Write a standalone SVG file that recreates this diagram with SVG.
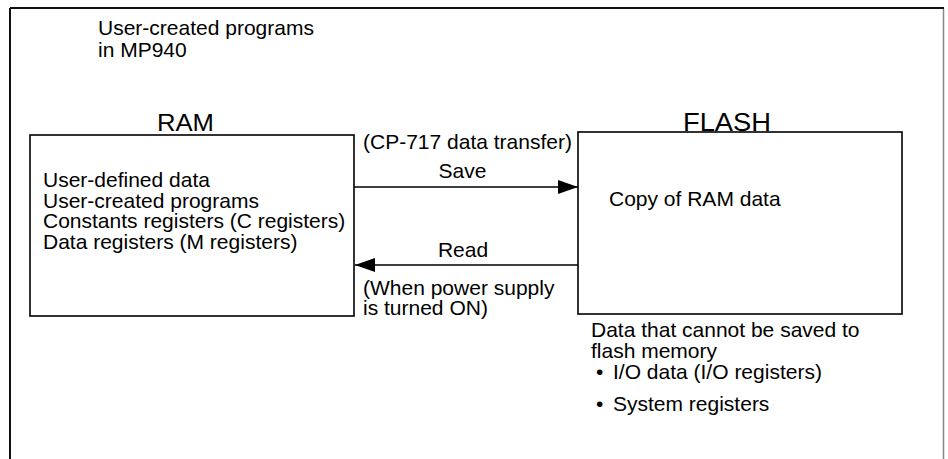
<svg xmlns="http://www.w3.org/2000/svg" width="948" height="459" viewBox="0 0 948 459">
<style>
text{font-family:"Liberation Sans",Arial,sans-serif;font-size:21px;fill:#000}
.box{fill:#fff;stroke:#000;stroke-width:1.6}
.conn{stroke:#000;stroke-width:1.6;fill:none}
.big{font-size:26px}
</style>
<defs>
<marker id="ah" markerWidth="20" markerHeight="14" refX="20" refY="7" orient="auto" markerUnits="userSpaceOnUse">
<path d="M0,0 L20,7 L0,14 Z" fill="#000"/>
</marker>
</defs>
<rect width="948" height="459" fill="#fff"/>
<g id="frame">
<line x1="10" y1="8" x2="944" y2="8" stroke="#111" stroke-width="2"/>
<line x1="10" y1="8" x2="10" y2="459" stroke="#111" stroke-width="2"/>
<line x1="943.5" y1="9" x2="943.5" y2="459" stroke="#888" stroke-width="1.5"/>
</g>
<g id="title">
<text x="98" y="35">User-created programs</text>
<text x="98" y="57">in MP940</text>
</g>
<g id="ram">
<text x="185.5" y="131" class="big" text-anchor="middle" textLength="57" lengthAdjust="spacingAndGlyphs" style="font-size:23px">RAM</text>
<rect class="box" x="30" y="135" width="324" height="181"/>
<text x="43" y="187">User-defined data</text>
<text x="43" y="207.5">User-created programs</text>
<text x="43" y="228">Constants registers (C registers)</text>
<text x="43" y="248.5">Data registers (M registers)</text>
</g>
<g id="flash">
<text x="727" y="131" class="big" text-anchor="middle" textLength="88" lengthAdjust="spacingAndGlyphs">FLASH</text>
<rect class="box" x="578" y="132" width="324" height="182"/>
<text x="609" y="206">Copy of RAM data</text>
</g>
<g id="connectors">
<line class="conn" x1="354" y1="187" x2="578" y2="187" marker-end="url(#ah)"/>
<line class="conn" x1="578" y1="265" x2="355" y2="265" marker-end="url(#ah)"/>
</g>
<g id="labels">
<text x="363" y="149">(CP-717 data transfer)</text>
<text x="462.5" y="178" text-anchor="middle">Save</text>
<text x="463" y="257" text-anchor="middle">Read</text>
<text x="363" y="295">(When power supply</text>
<text x="363" y="315">is turned ON)</text>
</g>
<g id="note">
<text x="591" y="337">Data that cannot be saved to</text>
<text x="591" y="358">flash memory</text>
<text x="596" y="379">•</text>
<text x="613" y="379">I/O data (I/O registers)</text>
<text x="596" y="411">•</text>
<text x="613" y="411">System registers</text>
</g>
</svg>
